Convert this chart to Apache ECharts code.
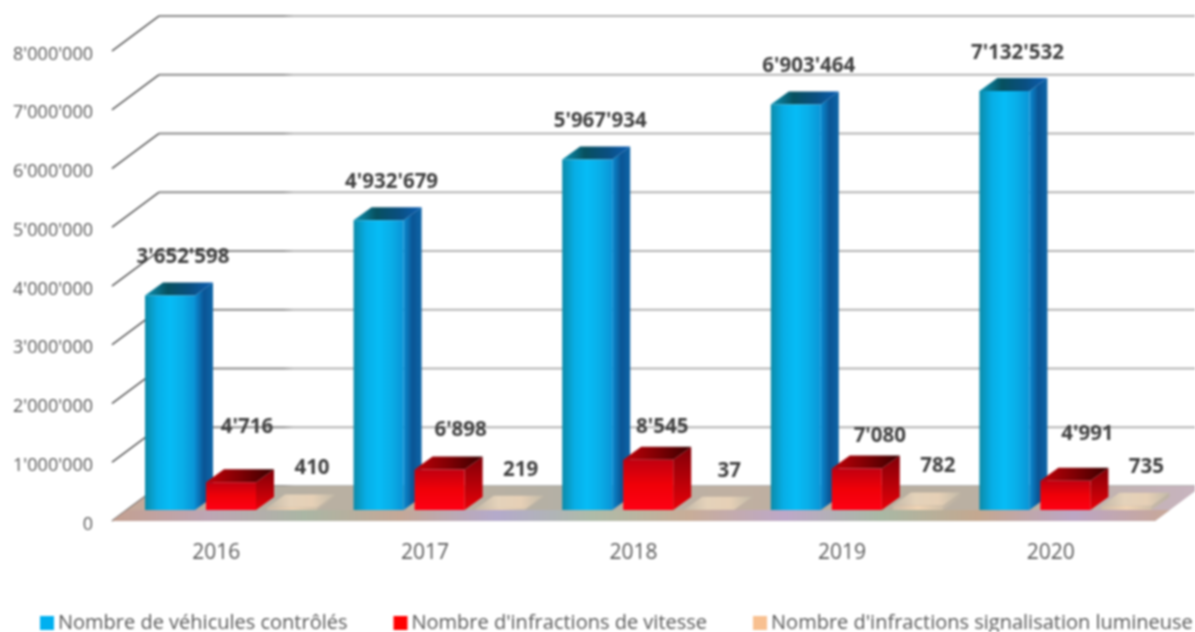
<!DOCTYPE html>
<html>
<head>
<meta charset="utf-8">
<style>
  html, body { margin: 0; padding: 0; background: #fff; }
  /* the reference is a soft, upscaled picture */
  #chart { width: 1195px; height: 632px; filter: blur(0.8px); }
</style>
<script src="https://cdn.jsdelivr.net/npm/echarts@6/dist/echarts.min.js"></script>
</head>
<body>
<div id="chart"></div>
<script>
const years = ['2016', '2017', '2018', '2019', '2020']
const vehicules = [3652598, 4932679, 5967934, 6903464, 7132532]
const vitesse = [4716, 6898, 8545, 7080, 4991]
const lumineuse = [410, 219, 37, 782, 735]
const yTicks = [0, 1000000, 2000000, 3000000, 4000000, 5000000, 6000000, 7000000, 8000000]

const names = [
  'Nombre de véhicules contrôlés',
  "Nombre d'infractions de vitesse",
  "Nombre d'infractions signalisation lumineuse"
]

// hand placed labels in the original, so they get their own nudges [dx, dy]
const vitesseNudge = [[41, -42], [46, -26], [39, -20], [48, -19], [47, -34]]

const FONT = '"Open Sans", sans-serif'
// depth of the pseudo 3D box: back wall vs front of the floor
const WALL_DX = 47
const WALL_DY = -35
// bars stand a bit behind the front edge of the floor
const BAR_DY = -11
const BAR_W = 50
const SIDE_DX = 18
const TOP_DY = -13

const fmt = v => String(v).replace(/\B(?=(\d{3})+(?!\d))/g, "'")

function hGrad(stops) {
  return new echarts.graphic.LinearGradient(0, 0, 1, 0, stops.map((c, i) => ({ offset: i / (stops.length - 1), color: c })))
}
function vGrad(stops) {
  return new echarts.graphic.LinearGradient(0, 0, 0, 1, stops.map((c, i) => ({ offset: i / (stops.length - 1), color: c })))
}

const blueStyle = {
  front: hGrad(['#0b8aa8', '#07aee6', '#06bcf6', '#09aee8', '#0a94d6']),
  side: hGrad(['#0a8cd2', '#0a5494', '#0e66a8']),
  top: hGrad(['#0c93b4', '#07505f', '#0a4f80', '#0c5fb4'])
}
const redStyle = {
  front: vGrad(['#c00010', '#f00008', '#ff0014']),
  side: vGrad(['#800008', '#e80008']),
  top: hGrad(['#c00008', '#800004', '#380000'])
}
const orangeStyle = {
  front: hGrad(['#cdbba8', '#f0d4b4', '#d0c0aa']),
  side: hGrad(['#c6b8a6', '#bcb2a2']),
  top: hGrad(['#c4b9a8', '#e4d2ba', '#e6d0b6', '#c2baa8'])
}

function renderBox(opts) {
  return function (params, api) {
    const i = api.value(0)
    const v = api.value(1)
    const band = api.size([1, 0])[0]
    const baseX = api.coord([i, 0])[0] - band / 2 + opts.offset
    const baseY = api.coord([i, 0])[1] + BAR_DY
    const topY = api.coord([i, v])[1] + BAR_DY
    const s = opts.style
    const nudge = opts.nudge ? opts.nudge[params.dataIndex] : opts.label
    const children = [
      { type: 'polygon', shape: { points: [[baseX + BAR_W, baseY], [baseX + BAR_W + SIDE_DX, baseY + TOP_DY], [baseX + BAR_W + SIDE_DX, topY + TOP_DY], [baseX + BAR_W, topY]] }, style: { fill: s.side } },
      { type: 'polygon', shape: { points: [[baseX, topY], [baseX + SIDE_DX, topY + TOP_DY], [baseX + BAR_W + SIDE_DX, topY + TOP_DY], [baseX + BAR_W, topY]] }, style: { fill: s.top } },
      { type: 'rect', shape: { x: baseX, y: topY, width: BAR_W, height: baseY - topY }, style: { fill: s.front } },
      {
        type: 'text',
        style: {
          x: baseX + nudge[0],
          y: topY + TOP_DY + nudge[1],
          text: fmt(v),
          align: 'center',
          verticalAlign: 'middle',
          font: 'bold 20.5px ' + FONT,
          fill: '#404040'
        }
      }
    ]
    return { type: 'group', children: children }
  }
}

function renderWall(params, api) {
  const v = api.value(0)
  const cs = params.coordSys
  const y = api.coord([0, v])[1]
  const x = cs.x
  const stroke = new echarts.graphic.LinearGradient(0, 0, 1, 0, [
    { offset: 0, color: '#8c8c8c' },
    { offset: 0.12, color: '#8c8c8c' },
    { offset: 0.13, color: '#b4b4b4' },
    { offset: 1, color: '#b4b4b4' }
  ])
  return {
    type: 'group',
    children: [
      { type: 'line', shape: { x1: x + WALL_DX, y1: y + WALL_DY, x2: x + cs.width + WALL_DX, y2: y + WALL_DY }, style: { stroke: stroke, lineWidth: 2 } },
      { type: 'line', shape: { x1: x, y1: y, x2: x + WALL_DX, y2: y + WALL_DY }, style: { stroke: '#3c3c3c', lineWidth: 1.5 } }
    ]
  }
}

function renderFloor(params) {
  const cs = params.coordSys
  const b = cs.y + cs.height
  const stripY = b + BAR_DY
  const r = cs.x + cs.width
  const stripX = WALL_DX * BAR_DY / WALL_DY
  return {
    type: 'group',
    children: [
      {
        type: 'polygon',
        shape: { points: [[cs.x, b], [r, b], [r + WALL_DX, b + WALL_DY], [cs.x + WALL_DX, b + WALL_DY]] },
        style: { fill: hGrad(['#c7a898', '#b6b0a4', '#bdb0a0', '#b3b0a6', '#c0b0a2', '#b8ae9f', '#bdb2a6', '#c8b4c0']) }
      },
      {
        type: 'polygon',
        shape: { points: [[cs.x, b], [r, b], [r + stripX, stripY], [cs.x + stripX, stripY]] },
        style: { fill: hGrad(['#c4a090', '#bda6b4', '#aab6a4', '#c4a898', '#b4aacb', '#aebba8', '#c8ad98', '#bda8c8', '#a9b8a4', '#c4a890', '#bca6c4', '#c8a898']) }
      }
    ]
  }
}

const chart = echarts.init(document.getElementById('chart'))
chart.setOption({
  animation: false,
  backgroundColor: '#fff',
  textStyle: { fontFamily: FONT },
  grid: { left: 112, top: 51, width: 1043, height: 470 },
  legend: {
    data: names,
    left: 40,
    top: 613,
    padding: 0,
    icon: 'rect',
    itemWidth: 14,
    itemHeight: 14,
    itemGap: 46,
    selectedMode: false,
    textStyle: { fontFamily: FONT, fontSize: 20, color: '#595959', padding: [0, 0, 0, -1] }
  },
  xAxis: {
    type: 'category',
    data: years,
    axisLine: { show: false },
    axisTick: { show: false },
    axisLabel: { fontSize: 21, color: '#595959', margin: 22, fontFamily: FONT }
  },
  yAxis: [
    {
      type: 'value',
      min: 0,
      max: 8000000,
      interval: 1000000,
      splitLine: { show: false },
      axisLine: { show: false },
      axisTick: { show: false },
      // top aligned with a short line box pushes the labels a few px under the tick
      axisLabel: { fontSize: 18, color: '#595959', margin: 19, fontFamily: FONT, formatter: fmt, verticalAlign: 'top', lineHeight: 7 }
    },
    // the two small series are on a hidden scale, about 100x the main one
    { type: 'value', min: 0, max: 80000, show: false }
  ],
  series: [
    {
      type: 'custom',
      name: 'wall',
      silent: true,
      z: 1,
      data: yTicks.map(v => [v]),
      encode: { y: 0 },
      renderItem: renderWall
    },
    {
      type: 'custom',
      name: 'floor',
      silent: true,
      z: 2,
      data: [[0, 0]],
      renderItem: renderFloor
    },
    {
      type: 'custom',
      name: names[0],
      z: 3,
      itemStyle: { color: '#00b0f0' },
      data: vehicules.map((v, i) => [i, v]),
      encode: { x: 0, y: 1 },
      renderItem: renderBox({ offset: 33, style: blueStyle, label: [38, -25] })
    },
    {
      type: 'custom',
      name: names[1],
      yAxisIndex: 1,
      z: 4,
      itemStyle: { color: '#ff0000' },
      data: vitesse.map((v, i) => [i, v]),
      encode: { x: 0, y: 1 },
      renderItem: renderBox({ offset: 94, style: redStyle, nudge: vitesseNudge })
    },
    {
      type: 'custom',
      name: names[2],
      yAxisIndex: 1,
      z: 5,
      itemStyle: { color: '#f8c090' },
      data: lumineuse.map((v, i) => [i, v]),
      encode: { x: 0, y: 1 },
      renderItem: renderBox({ offset: 155, style: orangeStyle, label: [45, -26] })
    }
  ]
})
</script>
</body>
</html>
